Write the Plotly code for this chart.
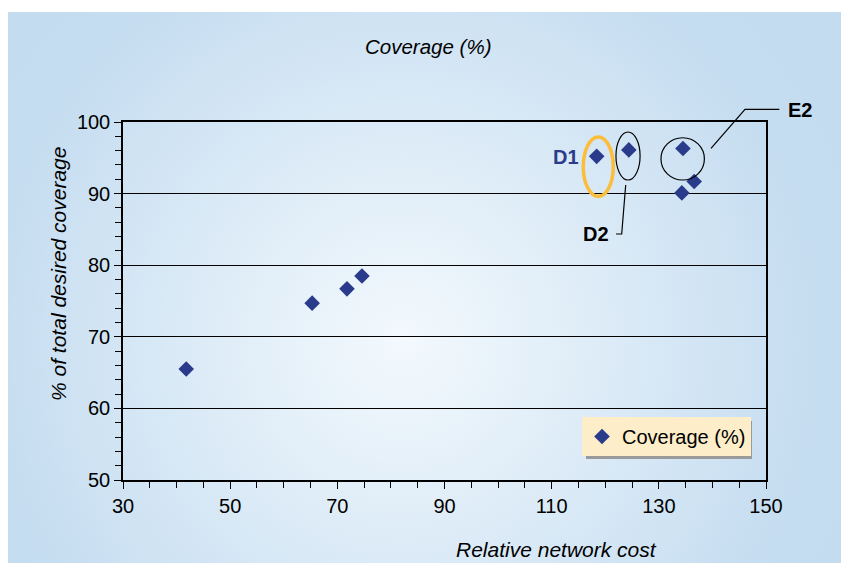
import base64
import plotly.graph_objects as go

# ---------------- data ----------------
cost = [41.8, 65.3, 71.8, 74.6, 118.4, 124.4, 134.5, 136.6, 134.3]
coverage = [65.5, 74.7, 76.7, 78.5, 95.2, 96.1, 96.3, 91.7, 90.1]
series_name = "Coverage (%)"
x_ticks = [30, 50, 70, 90, 110, 130, 150]
y_ticks = [50, 60, 70, 80, 90, 100]

# page has an 8px body margin -> figure is drawn at page (8, 8)
OFF = 8
W, H = 849 - OFF, 563 - OFF
PL, PR, PT, PB = 123, 766, 122, 480   # plot area in page pixels
pw, ph = PR - PL, PB - PT
L, T = PL - OFF, PT - OFF
R, B = W - (PR - OFF), H - (PB - OFF)


def px(xp):
    return (xp - PL) / pw


def py(yp):
    return (PB - yp) / ph


FONT = "Liberation Sans, Arial, sans-serif"
BLUE = "#2b3b8c"

fig = go.Figure()
fig.add_trace(go.Scatter(
    x=cost, y=coverage, mode="markers", name=series_name,
    marker=dict(symbol="diamond", size=12, color=BLUE),
    showlegend=True,
))

# background radial gradient panel
svg = ("<svg xmlns='http://www.w3.org/2000/svg' width='841' height='551' viewBox='0 0 841 551' "
       "preserveAspectRatio='none'><defs><radialGradient id='g' cx='395' cy='330' r='470' "
       "gradientUnits='userSpaceOnUse'><stop offset='0' stop-color='#f3f9fd'/>"
       "<stop offset='0.85' stop-color='#c7def1'/><stop offset='1' stop-color='#c3dcf0'/>"
       "</radialGradient></defs><rect width='841' height='551' fill='url(#g)'/></svg>")
src = "data:image/svg+xml;base64," + base64.b64encode(svg.encode()).decode()
fig.add_layout_image(dict(
    source=src, xref="paper", yref="paper", x=px(8), y=py(12),
    sizex=841 / pw, sizey=551 / ph, sizing="stretch",
    xanchor="left", yanchor="top", layer="below",
))

shapes = []
# ellipses
shapes.append(dict(type="circle", xref="x", yref="y", x0=115.9, x1=121.5, y0=89.6, y1=97.9,
                   line=dict(color="#fbbd3a", width=3.5)))
shapes.append(dict(type="circle", xref="x", yref="y", x0=122.0, x1=126.5, y0=91.9, y1=98.6,
                   line=dict(color="black", width=1.2)))
shapes.append(dict(type="circle", xref="x", yref="y", x0=130.4, x1=138.5, y0=91.9, y1=97.8,
                   line=dict(color="black", width=1.2)))
# leader lines
shapes.append(dict(type="path", xref="paper", yref="paper",
                   path=f"M {px(711)},{py(148.3)} L {px(745)},{py(109.3)} L {px(779.3)},{py(109.3)}",
                   line=dict(color="black", width=1.2)))
shapes.append(dict(type="path", xref="paper", yref="paper",
                   path=f"M {px(625.7)},{py(185)} L {px(621.7)},{py(234)} L {px(616)},{py(234)}",
                   line=dict(color="black", width=1.2)))
# legend shadow
shapes.append(dict(type="rect", xref="paper", yref="paper",
                   x0=px(586), x1=px(752), y0=py(459), y1=py(421),
                   fillcolor="#9a9a9a", line=dict(width=0), layer="above"))


def ann(text, xp, yp, size, color="black", angle=0):
    return dict(text=text, x=px(xp), y=py(yp), xref="paper", yref="paper",
                xanchor="center", yanchor="middle", showarrow=False, textangle=angle,
                font=dict(family=FONT, size=size, color=color))


annotations = [
    ann("<i>Coverage (%)</i>", 428, 47, 20.5),
    ann("<i>Relative network cost</i>", 556, 549, 21),
    ann("<i>% of total desired coverage</i>", 58, 274, 21, angle=-90),
    ann("<b>D1</b>", 566, 157, 20, BLUE),
    ann("<b>D2</b>", 596, 234, 20),
    ann("<b>E2</b>", 800, 110, 20),
]

fig.update_layout(
    width=W, height=H,
    margin=dict(l=L, r=R, t=T, b=B),
    paper_bgcolor="white",
    plot_bgcolor="rgba(0,0,0,0)",
    font=dict(family=FONT, size=20, color="black"),
    shapes=shapes,
    annotations=annotations,
    legend=dict(x=px(582), y=py(417), xanchor="left", yanchor="top",
                bgcolor="#fdedc8", borderwidth=0, itemwidth=30,
                font=dict(family=FONT, size=20, color="black")),
    xaxis=dict(range=[30, 150], tickvals=x_ticks, ticktext=[str(v) for v in x_ticks],
               showgrid=False, zeroline=False, showline=True, linecolor="black", linewidth=1.5,
               mirror=True, ticks="outside", ticklen=7, tickcolor="black", tickwidth=1,
               minor=dict(dtick=5, tick0=30, ticks="outside", ticklen=6, tickcolor="black",
                          showgrid=False),
               tickfont=dict(family=FONT, size=20)),
    yaxis=dict(range=[50, 100], tickvals=y_ticks, ticktext=[str(v) for v in y_ticks],
               showgrid=True, gridcolor="black", gridwidth=1, zeroline=False,
               showline=True, linecolor="black", linewidth=1.5, mirror=True,
               ticks="outside", ticklen=7, tickcolor="black", tickwidth=1,
               minor=dict(dtick=2, tick0=50, ticks="outside", ticklen=6, tickcolor="black",
                          showgrid=False),
               tickfont=dict(family=FONT, size=20)),
)

fig.write_html("out.html")
